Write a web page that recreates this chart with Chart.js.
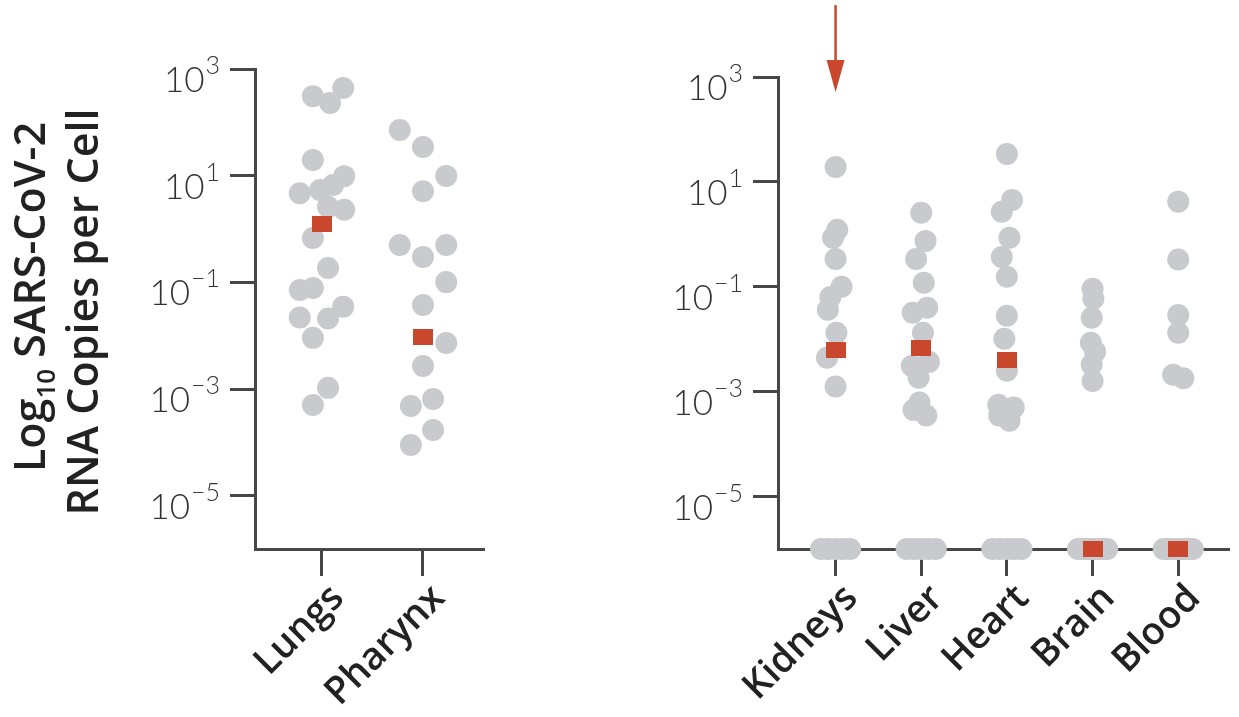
<!DOCTYPE html>
<html>
<head>
<meta charset="utf-8">
<script src="https://cdn.jsdelivr.net/npm/chart.js@4.4.1/dist/chart.umd.min.js"></script>
<style>
  html, body { margin: 0; padding: 0; background: #fff; }
  body { width: 1239px; height: 717px; position: relative; overflow: hidden; }
  #left { position: absolute; left: 0; top: 0; }
  #right { position: absolute; left: 560px; top: 0; }
</style>
</head>
<body>
<canvas id="left" width="500" height="717"></canvas>
<canvas id="right" width="679" height="717"></canvas>
<script>
// RNA copies per cell
const leftCategories = ["Lungs", "Pharynx"];
const lungsValues = [310, 230, 440, 19.6, 4.7, 5.4, 6.7, 9.8, 2.6, 2.3, 0.68, 0.186, 0.072, 0.078, 0.022, 0.021, 0.035, 0.0091, 0.00105, 0.0005];
const lungsOffsets = [-0.09, 0.08, 0.21, -0.09, -0.22, -0.02, 0.11, 0.22, 0.06, 0.22, -0.09, 0.06, -0.22, -0.09, -0.22, 0.06, 0.21, -0.09, 0.06, -0.09];
const pharynxValues = [71.8, 34.5, 9.9, 5.1, 0.5, 0.3, 0.5, 0.101, 0.0376, 0.0073, 0.0027, 0.00065, 0.00048, 0.00017, 0.000089];
const pharynxOffsets = [-0.23, 0, 0.23, 0, -0.23, 0, 0.23, 0.23, 0, 0.23, 0, 0.1, -0.12, 0.1, -0.12];
const leftMedians = [1.24, 0.0094];

const rightCategories = ["Kidneys", "Liver", "Heart", "Brain", "Blood"];
const kidneysValues = [19.3, 1.22, 0.86, 0.34, 0.1, 0.064, 0.0365, 0.0133, 0.00445, 0.00125];
const kidneysOffsets = [0, 0.02, -0.03, 0, 0.07, -0.06, -0.09, 0.01, -0.1, 0];
const liverValues = [2.57, 0.75, 0.34, 0.119, 0.04, 0.032, 0.0133, 0.0037, 0.0031, 0.00185, 0.00062, 0.00045, 0.00035];
const liverOffsets = [0, 0.05, -0.06, 0.03, 0.07, -0.1, 0.02, 0.09, -0.11, -0.03, -0.02, -0.09, 0.06];
const heartValues = [34, 4.5, 2.7, 0.86, 0.37, 0.155, 0.028, 0.0102, 0.0025, 0.00056, 0.0005, 0.00035, 0.00028];
const heartOffsets = [0, 0.06, -0.06, 0.03, -0.06, 0, 0, -0.03, 0, -0.1, 0.08, -0.09, 0.03];
const brainValues = [0.092, 0.059, 0.0257, 0.0086, 0.0058, 0.0033, 0.0016];
const brainOffsets = [0, 0.01, -0.01, -0.02, 0.03, -0.01, 0];
const bloodValues = [4.2, 0.33, 0.029, 0.0133, 0.0021, 0.0018];
const bloodOffsets = [0, 0, 0, 0, -0.06, 0.06];
const detectionFloor = 1e-6; // undetected samples sit on the x axis
const undetectedCounts = [5, 5, 5, 9, 9];
const rightMedians = [0.0063, 0.0069, 0.0041, detectionFloor, detectionFloor];

const yTicks = [1e3, 1e1, 1e-1, 1e-3, 1e-5];
const yTitleLines = ["Log", "10", " SARS-CoV-2", "RNA Copies per Cell"];
const arrowCategory = 0;
const arrowFrom = 2.35e4;
const arrowTo = 520;

const GRAY = "#c8cacd";
const RED = "#c8472d";
const AXIS = "#474747";

// median marker: a slightly wide red rectangle
const medianMark = document.createElement("canvas");
medianMark.width = 20;
medianMark.height = 16;
const mctx = medianMark.getContext("2d");
mctx.fillStyle = RED;
mctx.fillRect(0, 0, 20, 16);

function points(values, offsets, idx) {
  return values.map((v, i) => ({ x: idx + offsets[i], y: v }));
}

const powerLabels = {
  id: "powerLabels",
  afterDraw(chart) {
    const ys = chart.scales.y;
    const ctx = chart.ctx;
    const right = chart.chartArea.left - 35;
    ctx.save();
    ctx.fillStyle = "#333";
    ctx.textAlign = "right";
    ctx.textBaseline = "alphabetic";
    ys.ticks.forEach(t => {
      const py = ys.getPixelForValue(t.value);
      const exp = String(Math.round(Math.log10(t.value))).replace("-", "\u2212");
      ctx.font = "300 25px Lato, 'Open Sans', sans-serif";
      ctx.fillText(exp, right, py + 5);
      const w = ctx.measureText(exp).width;
      ctx.font = "300 35px Lato, 'Open Sans', sans-serif";
      ctx.fillText("10", right - w - 1, py + 23);
    });
    ctx.restore();
  }
};

const yTitle = {
  id: "yTitle",
  afterDraw(chart) {
    const ctx = chart.ctx;
    const area = chart.chartArea;
    const cy = (area.top + area.bottom) / 2;
    const big = "600 43px 'Open Sans', sans-serif";
    const small = "600 26px 'Open Sans', sans-serif";
    ctx.save();
    ctx.fillStyle = "#222";
    ctx.textBaseline = "alphabetic";
    ctx.textAlign = "left";
    // first line with subscript
    ctx.save();
    ctx.translate(area.left - 210, cy - 12);
    ctx.rotate(-Math.PI / 2);
    ctx.font = big;
    const w1 = ctx.measureText(yTitleLines[0]).width;
    const w3 = ctx.measureText(yTitleLines[2]).width;
    ctx.font = small;
    const w2 = ctx.measureText(yTitleLines[1]).width;
    let x = -(w1 + w2 + w3) / 2;
    ctx.font = big;
    ctx.fillText(yTitleLines[0], x, 0);
    x += w1;
    ctx.font = small;
    ctx.fillText(yTitleLines[1], x, 10);
    x += w2;
    ctx.font = big;
    ctx.fillText(yTitleLines[2], x, 0);
    ctx.restore();
    // second line
    ctx.save();
    ctx.translate(area.left - 157, cy + 3);
    ctx.rotate(-Math.PI / 2);
    ctx.font = big;
    ctx.textAlign = "center";
    ctx.fillText(yTitleLines[3], 0, 0);
    ctx.restore();
    ctx.restore();
  }
};

const arrow = {
  id: "arrow",
  afterDraw(chart) {
    const ctx = chart.ctx;
    const x = chart.scales.x.getPixelForValue(arrowCategory);
    const top = chart.scales.y.getPixelForValue(arrowFrom);
    const tip = chart.scales.y.getPixelForValue(arrowTo);
    ctx.save();
    ctx.strokeStyle = RED;
    ctx.fillStyle = RED;
    ctx.lineWidth = 2.5;
    ctx.beginPath();
    ctx.moveTo(x, top);
    ctx.lineTo(x, tip - 28);
    ctx.stroke();
    ctx.beginPath();
    ctx.moveTo(x - 9, tip - 32);
    ctx.lineTo(x + 9, tip - 32);
    ctx.lineTo(x, tip);
    ctx.closePath();
    ctx.fill();
    ctx.restore();
  }
};

function makeOptions(categories, xMin, xMax, yWidth, padTop, padRight) {
  return {
    responsive: false,
    animation: false,
    devicePixelRatio: 1,
    layout: { padding: { top: padTop, right: padRight, left: 0, bottom: 0 } },
    plugins: { legend: { display: false }, tooltip: { enabled: false } },
    scales: {
      x: {
        type: "linear",
        min: xMin,
        max: xMax,
        afterBuildTicks: s => { s.ticks = categories.map((c, i) => ({ value: i })); },
        afterFit: s => { s.height = 168; s.paddingLeft = 0; s.paddingRight = 0; },
        grid: { drawOnChartArea: false, drawTicks: true, tickLength: 27, lineWidth: 3, color: AXIS },
        border: { display: true, width: 3, color: AXIS },
        ticks: {
          autoSkip: false,
          minRotation: 45,
          maxRotation: 45,
          padding: 0,
          labelOffset: 16,
          color: "#222",
          font: { family: "'Open Sans', sans-serif", size: 38, weight: "600" },
          callback: v => categories[Math.round(v)]
        }
      },
      y: {
        type: "logarithmic",
        min: 1e-6,
        max: 1e3,
        afterBuildTicks: s => { s.ticks = yTicks.map(v => ({ value: v })); },
        afterFit: s => { s.width = yWidth; },
        grid: { drawOnChartArea: false, drawTicks: true, tickLength: 25, lineWidth: 3, color: AXIS },
        border: { display: true, width: 3, color: AXIS },
        ticks: { display: false }
      }
    }
  };
}

function dotSet(data) {
  return { data, order: 2, clip: false, pointRadius: 11, pointBackgroundColor: GRAY, pointBorderWidth: 0, pointHoverRadius: 11 };
}
function medianSet(data) {
  return { data, order: 0, clip: false, pointStyle: medianMark, pointRadius: 10, pointHoverRadius: 10 };
}

new Chart(document.getElementById("left"), {
  type: "scatter",
  data: {
    datasets: [
      dotSet(points(lungsValues, lungsOffsets, 0).concat(points(pharynxValues, pharynxOffsets, 1))),
      medianSet(leftMedians.map((v, i) => ({ x: i, y: v })))
    ]
  },
  options: makeOptions(leftCategories, -0.663, 1.594, 255, 69, 17),
  plugins: [powerLabels, yTitle]
});

const rightDots = []
  .concat(points(kidneysValues, kidneysOffsets, 0))
  .concat(points(liverValues, liverOffsets, 1))
  .concat(points(heartValues, heartOffsets, 2))
  .concat(points(brainValues, brainOffsets, 3))
  .concat(points(bloodValues, bloodOffsets, 4));

const undetected = [];
undetectedCounts.forEach((n, i) => {
  for (let k = 0; k < n; k++) {
    undetected.push({ x: i - 0.17 + 0.34 * k / (n - 1), y: detectionFloor });
  }
});

new Chart(document.getElementById("right"), {
  type: "scatter",
  data: {
    datasets: [
      dotSet(rightDots),
      Object.assign(dotSet(undetected), { order: 1 }),
      medianSet(rightMedians.map((v, i) => ({ x: i, y: v })))
    ]
  },
  options: makeOptions(rightCategories, -0.672, 4.581, 218, 77, 0),
  plugins: [powerLabels, arrow]
});
</script>
</body>
</html>
